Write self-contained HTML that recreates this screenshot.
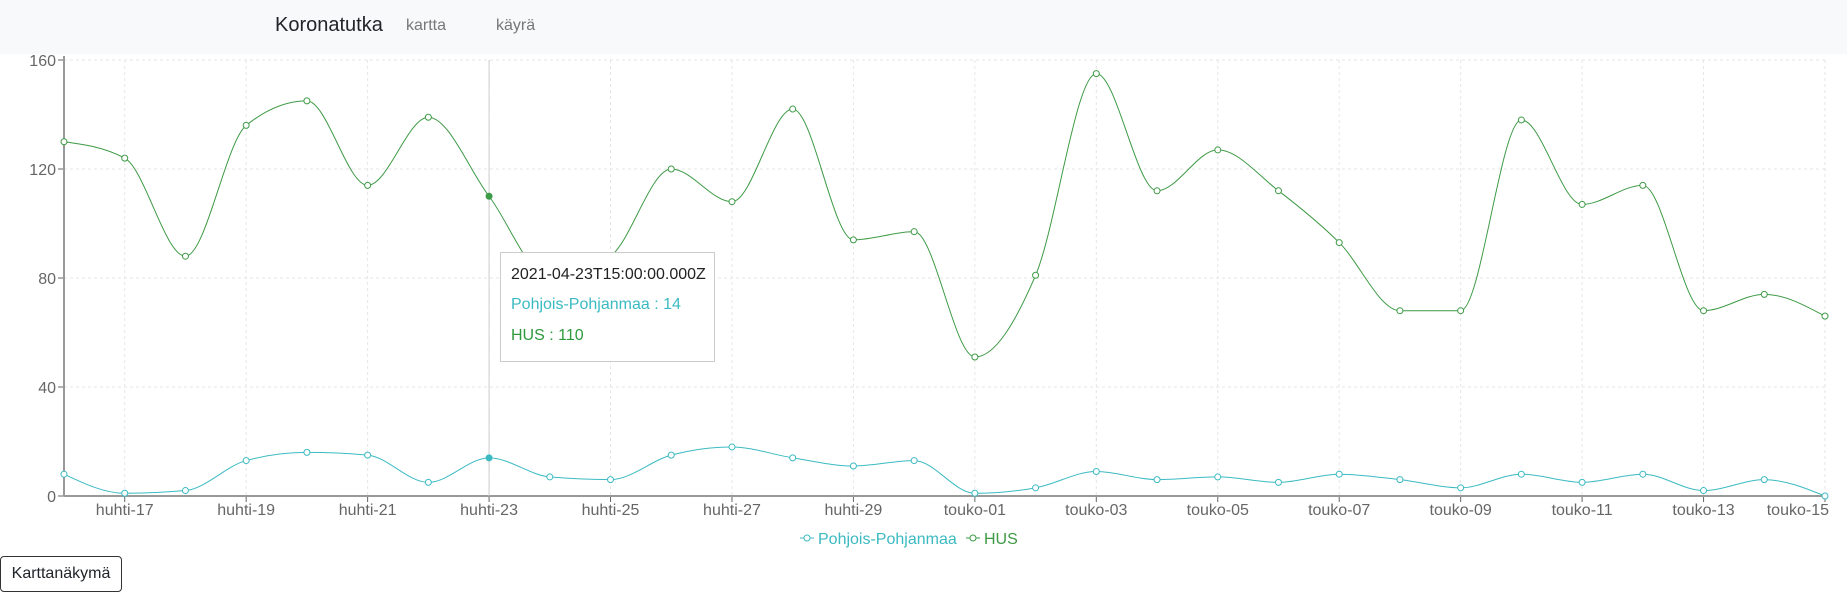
<!DOCTYPE html>
<html><head><meta charset="utf-8">
<style>
body{margin:0;width:1847px;height:600px;background:#fff;font-family:"Liberation Sans",sans-serif;overflow:hidden;position:relative}
.nav{position:absolute;left:0;top:0;width:1847px;height:54px;background:#f8f9fa}
.brand{position:absolute;left:275px;top:14px;font-size:20px;color:#212529}
.lnk{position:absolute;top:17px;font-size:16px;color:#777;text-decoration:none}
.btn{position:absolute;left:0;top:556px;width:122px;height:36px;border:1px solid #333;border-radius:4px;background:#fff;font-size:16px;font-family:"Liberation Sans",sans-serif;color:#212529}
.tip{position:absolute;left:500px;top:252px;width:213px;height:108px;border:1px solid #ccc;background:#fff;font-size:16px}
.tip div{position:absolute;left:10px}
</style></head><body>
<div class="nav">
<span class="brand">Koronatutka</span>
<a class="lnk" style="left:406px">kartta</a>
<a class="lnk" style="left:496px">käyrä</a>
</div>
<svg id="chart" width="1847" height="600" style="position:absolute;left:0;top:0"></svg>
<div class="tip">
<div style="top:13px;color:#222">2021-04-23T15:00:00.000Z</div>
<div style="top:43px;color:#3bbac2">Pohjois-Pohjanmaa : 14</div>
<div style="top:74px;color:#2e9a3c">HUS : 110</div>
</div>
<button class="btn">Karttanäkymä</button>
<script>
const dates=["huhti-16","huhti-17","huhti-18","huhti-19","huhti-20","huhti-21","huhti-22","huhti-23","huhti-24","huhti-25","huhti-26","huhti-27","huhti-28","huhti-29","huhti-30","touko-01","touko-02","touko-03","touko-04","touko-05","touko-06","touko-07","touko-08","touko-09","touko-10","touko-11","touko-12","touko-13","touko-14","touko-15"];
const hus=[130,124,88,136,145,114,139,110,80,88,120,108,142,94,97,51,81,155,112,127,112,93,68,68,138,107,114,68,74,66];
const pohjois=[8,1,2,13,16,15,5,14,7,6,15,18,14,11,13,1,3,9,6,7,5,8,6,3,8,5,8,2,6,0];
const yTicks=[0,40,80,120,160];
const activeIndex=7;
const NS="http://www.w3.org/2000/svg";
const svg=document.getElementById('chart');
const X0=64,X1=1825,Y0=496,Y1=60,YMAX=160;
const xs=i=>X0+(X1-X0)*i/(dates.length-1);
const ys=v=>Y0-(Y0-Y1)*v/YMAX;
function mk(t,a){const e=document.createElementNS(NS,t);for(const k in a)e.setAttribute(k,a[k]);svg.appendChild(e);return e;}
// grid
yTicks.forEach(v=>{if(v>0){const g=mk('line',{x1:X0,x2:X1,y1:ys(v),y2:ys(v),stroke:'#e6e6e6','stroke-dasharray':'3 3'});

}
const t=mk('text',{x:X0-8,y:ys(v)+6,'text-anchor':'end','font-size':16,fill:'#666'});t.textContent=v;


mk('line',{x1:X0-6,x2:X0,y1:ys(v),y2:ys(v),stroke:'#666'});});
dates.forEach((d,i)=>{if(i%2===1){const x=xs(i);
const g=mk('line',{x1:x,x2:x,y1:Y1,y2:Y0,stroke:'#e6e6e6','stroke-dasharray':'3 3'});


mk('line',{x1:x,x2:x,y1:Y0,y2:Y0+6,stroke:'#666'});
const last=i===dates.length-1;
const t=mk('text',{x:last?1829:x,y:515,'text-anchor':last?'end':'middle','font-size':16,fill:'#666'});t.textContent=d;

}});
const ya=mk('line',{x1:X0,x2:X0,y1:Y1-4,y2:Y0,stroke:'#999','stroke-width':2});


const xa=mk('line',{x1:X0,x2:X1,y1:Y0,y2:Y0,stroke:'#999','stroke-width':2});


const cur=mk('line',{x1:xs(activeIndex),x2:xs(activeIndex),y1:Y1,y2:Y0,stroke:'#ccc'});


// monotone X
function mono(px,py){const n=px.length;const m=[],d=[];
for(let i=0;i<n-1;i++)d.push((py[i+1]-py[i])/(px[i+1]-px[i]));
for(let i=1;i<n-1;i++){const h0=px[i]-px[i-1],h1=px[i+1]-px[i];const s0=d[i-1],s1=d[i];const p=(s0*h1+s1*h0)/(h0+h1);
m[i]=(Math.sign(s0)+Math.sign(s1))*Math.min(Math.abs(s0),Math.abs(s1),0.5*Math.abs(p))||0;}
const h=px[1]-px[0];m[0]=(3*d[0]-m[1])/2;m[n-1]=(3*d[n-2]-m[n-2])/2;
let s=`M${px[0]},${py[0]}`;
for(let i=0;i<n-1;i++){const dx=(px[i+1]-px[i])/3;s+=`C${px[i]+dx},${py[i]+dx*m[i]} ${px[i+1]-dx},${py[i+1]-dx*m[i+1]} ${px[i+1]},${py[i+1]}`;}
return s;}
function series(vals,color,name){const px=vals.map((v,i)=>xs(i)),py=vals.map(v=>ys(v));
const p=mk('path',{d:mono(px,py),fill:'none',stroke:color,'stroke-width':1});


vals.forEach((v,i)=>{const a=i===activeIndex;
const c=mk('circle',{cx:xs(i),cy:ys(v),r:a?3:3,fill:a?color:'#fff',stroke:color});

});}
series(pohjois,'#3bbac2','pohjois-pohjanmaa');
series(hus,'#3d9a45','hus');
// legend
function leg(x,color,label,name){const g=document.createElementNS(NS,'g');svg.appendChild(g);


const l=document.createElementNS(NS,'line');l.setAttribute('x1',x);l.setAttribute('x2',x+14);l.setAttribute('y1',538);l.setAttribute('y2',538);l.setAttribute('stroke',color);g.appendChild(l);
const c=document.createElementNS(NS,'circle');c.setAttribute('cx',x+7);c.setAttribute('cy',538);c.setAttribute('r',3);c.setAttribute('fill','#fff');c.setAttribute('stroke',color);g.appendChild(c);
const t=document.createElementNS(NS,'text');t.setAttribute('x',x+18);t.setAttribute('y',544);t.setAttribute('font-size',16);t.setAttribute('fill',color);t.textContent=label;g.appendChild(t);}
leg(800,'#3bbac2','Pohjois-Pohjanmaa','legend-pohjois-pohjanmaa');
leg(966,'#3d9a45','HUS','legend-hus');
</script>
</body></html>
